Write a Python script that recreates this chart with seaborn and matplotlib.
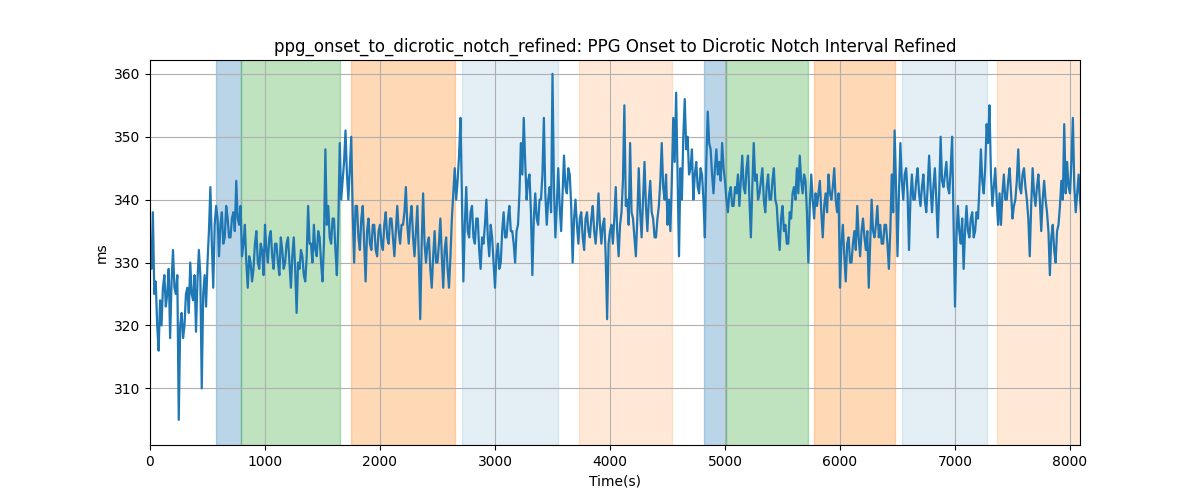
import numpy as np
import pandas as pd
import matplotlib
matplotlib.use("Agg")
import matplotlib.pyplot as plt
import seaborn as sns


SAMPLE_STEP = 12.5  # seconds between the values below

# interval in ms, 8 values per 100 s
interval_ms = [
    333, 329, 338, 325, 327, 320, 316, 324,  320, 326, 328, 323, 325, 329, 318, 327,
    332, 326, 325, 328, 305, 320, 322, 318,  320, 325, 326, 322, 330, 325, 324, 328,
    319, 327, 332, 328, 310, 325, 328, 323,  330, 335, 342, 333, 326, 336, 339, 337,
    331, 336, 338, 333, 334, 339, 337, 334,  334, 337, 338, 335, 343, 337, 336, 339,
    331, 333, 336, 330, 326, 331, 330, 327,  329, 333, 335, 330, 329, 333, 332, 328,
    336, 332, 330, 334, 335, 331, 329, 333,  333, 330, 328, 334, 332, 329, 330, 333,
    334, 330, 326, 331, 334, 329, 322, 330,  329, 332, 331, 328, 327, 331, 339, 333,
    333, 330, 336, 332, 331, 335, 334, 330,  327, 333, 348, 336, 339, 334, 333, 337,
    337, 332, 328, 336, 349, 340, 343, 346,  351, 344, 340, 345, 350, 338, 330, 339,
    339, 334, 332, 337, 339, 333, 327, 335,  337, 333, 332, 336, 336, 332, 331, 335,
    336, 333, 332, 336, 338, 334, 333, 337,  337, 334, 331, 335, 339, 335, 333, 336,
    336, 338, 342, 336, 333, 337, 339, 334,  331, 335, 339, 331, 321, 333, 341, 333,
    330, 333, 334, 329, 326, 331, 335, 330,  330, 333, 337, 331, 326, 332, 334, 329,
    326, 331, 337, 341, 345, 340, 343, 347,  353, 340, 327, 336, 342, 335, 334, 338,
    339, 334, 333, 337, 337, 332, 329, 334,  333, 336, 340, 334, 331, 336, 334, 330,
    326, 331, 333, 329, 330, 335, 338, 334,  334, 337, 339, 335, 335, 333, 330, 335,
    336, 341, 349, 344, 353, 346, 340, 343,  344, 338, 328, 337, 341, 337, 336, 340,
    340, 344, 353, 341, 336, 340, 342, 338,  360, 342, 334, 339, 345, 339, 335, 341,
    347, 342, 341, 345, 344, 339, 330, 337,  340, 336, 333, 337, 338, 334, 332, 337,
    338, 335, 334, 337, 339, 335, 333, 336,  341, 336, 333, 336, 337, 331, 321, 333,
    335, 336, 333, 337, 342, 335, 331, 336,  338, 343, 355, 339, 340, 336, 349, 338,
    337, 334, 331, 337, 345, 338, 334, 340,  346, 339, 335, 340, 343, 338, 337, 334,
    334, 337, 339, 343, 349, 342, 340, 344,  336, 340, 335, 343, 353, 346, 357, 344,
    331, 345, 340, 350, 356, 348, 350, 344,  345, 348, 340, 344, 346, 342, 341, 345,
    344, 340, 334, 346, 354, 349, 348, 344,  341, 345, 348, 344, 346, 343, 349, 345,
    343, 340, 338, 341, 342, 339, 339, 342,  341, 344, 339, 343, 347, 342, 341, 345,
    347, 340, 334, 342, 349, 343, 344, 340,  341, 343, 345, 340, 338, 342, 344, 340,
    340, 343, 345, 340, 339, 335, 332, 337,  339, 335, 336, 333, 333, 338, 337, 341,
    342, 340, 345, 341, 347, 343, 341, 344,  343, 338, 330, 339, 344, 340, 337, 341,
    339, 341, 343, 338, 334, 339, 341, 338,  344, 341, 340, 342, 345, 340, 338, 341,
    326, 333, 336, 331, 327, 333, 334, 330,  330, 333, 335, 332, 339, 334, 331, 335,
    337, 334, 332, 335, 326, 333, 340, 335,  334, 336, 339, 334, 336, 333, 333, 336,
    336, 333, 329, 335, 344, 338, 351, 342,  331, 341, 349, 343, 340, 344, 345, 341,
    332, 340, 344, 340, 340, 343, 345, 341,  339, 342, 344, 340, 338, 342, 347, 342,
    338, 342, 345, 340, 334, 341, 350, 343,  342, 344, 346, 342, 341, 345, 350, 337,
    323, 334, 339, 335, 333, 337, 329, 335,  339, 335, 334, 337, 338, 334, 335, 338,
    337, 342, 348, 343, 341, 345, 352, 349,  355, 344, 339, 342, 345, 340, 336, 341,
    336, 341, 344, 340, 340, 343, 345, 341,  337, 339, 340, 343, 348, 342, 341, 344,
    345, 342, 340, 337, 331, 339, 345, 341,  339, 342, 344, 340, 335, 340, 343, 340,
    338, 335, 328, 334, 336, 332, 330, 335,  336, 339, 343, 340, 352, 341, 346, 342,
    341, 346, 353, 342, 338, 341, 344, 340,  337,
]

# shaded segments: start, end (s), colour, alpha
span_start = [574, 794, 1748, 2713, 3730, 4817, 5008, 5776, 6537, 7365]
span_end = [794, 1655, 2650, 3545, 4535, 5008, 5725, 6475, 7278, 8087]
span_color = ["tab:blue", "tab:green", "tab:orange", "tab:blue", "tab:orange",
              "tab:blue", "tab:green", "tab:orange", "tab:blue", "tab:orange"]
span_alpha = [0.3, 0.3, 0.3, 0.12, 0.17, 0.3, 0.3, 0.3, 0.12, 0.17]

df = pd.DataFrame({
    "time": np.arange(len(interval_ms)) * SAMPLE_STEP,
    "value": interval_ms,
})

fig, ax = plt.subplots(figsize=(12, 5), dpi=100)

for s, e, c, a in zip(span_start, span_end, span_color, span_alpha):
    ax.axvspan(s, e, color=c, alpha=a)

sns.lineplot(data=df, x="time", y="value", ax=ax, color="tab:blue", linewidth=1.6)

ax.set_xlim(0, 8087)
ax.set_ylim(301, 362.2)
ax.grid(True)
ax.set_title("ppg_onset_to_dicrotic_notch_refined: PPG Onset to Dicrotic Notch Interval Refined")
ax.set_xlabel("Time(s)")
ax.set_ylabel("ms")

fig.savefig("out.png")
